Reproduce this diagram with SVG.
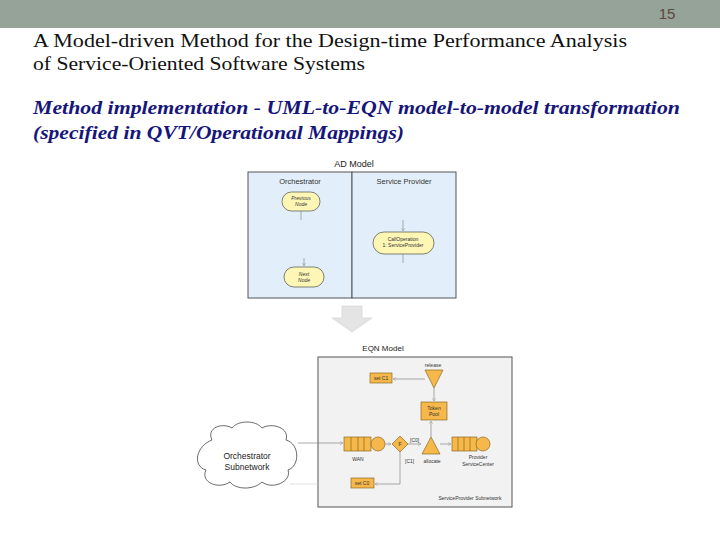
<svg xmlns="http://www.w3.org/2000/svg" width="720" height="540" viewBox="0 0 720 540">
<style>
.serif{font-family:"Liberation Serif","DejaVu Serif",serif}
.sans{font-family:"Liberation Sans",Arial,sans-serif}
.lane{fill:#e2effa;stroke:#555;stroke-width:1}
.adn{fill:#fdf6b5;stroke:#333;stroke-width:0.6}
.ln{stroke:#888;stroke-width:0.7;fill:none}
.or{fill:#f6b74b;stroke:#7a5a10;stroke-width:0.6}
.tiny{font-family:"Liberation Sans",Arial,sans-serif;font-size:5px;fill:#333}
</style>
<defs>
<marker id="ah" viewBox="0 0 6 6" refX="5" refY="3" markerWidth="5" markerHeight="5" orient="auto"><path d="M0,0 L5,3 L0,6" fill="none" stroke="#999" stroke-width="0.8"/></marker>
</defs>
<rect x="0" y="0" width="720" height="28" fill="#95a399"/>
<text class="sans" x="667" y="19" font-size="15" fill="#5a4a3a" text-anchor="middle">15</text>
<text class="serif" font-size="19" fill="#111"><tspan x="33" y="47" textLength="594" lengthAdjust="spacingAndGlyphs">A Model-driven Method for the Design-time Performance Analysis</tspan><tspan x="33" y="70" textLength="332" lengthAdjust="spacingAndGlyphs">of Service-Oriented Software Systems</tspan></text>
<text class="serif" font-size="19" font-weight="bold" font-style="italic" fill="#16167a"><tspan x="33" y="114" textLength="647" lengthAdjust="spacingAndGlyphs">Method implementation - UML-to-EQN model-to-model transformation</tspan><tspan x="33" y="139" textLength="371" lengthAdjust="spacingAndGlyphs">(specified in QVT/Operational Mappings)</tspan></text>

<g id="ad-model">
<text class="sans" x="354" y="167" font-size="9" text-anchor="middle" fill="#222">AD Model</text>
<rect class="lane" x="248" y="172" width="104" height="126"/>
<rect class="lane" x="352" y="172" width="104" height="126"/>
<text class="sans" x="300" y="184" font-size="7.5" text-anchor="middle" fill="#333">Orchestrator</text>
<text class="sans" x="404" y="184" font-size="7.5" text-anchor="middle" fill="#333">Service Provider</text>
</g>
<g id="previous-node"><rect class="adn" x="282" y="192" width="38" height="19" rx="9.5"/><text class="tiny" font-style="italic" text-anchor="middle"><tspan x="301" y="200">Previous</tspan><tspan x="301" y="206">Node</tspan></text></g>
<g id="next-node"><rect class="adn" x="284" y="267" width="40" height="20" rx="10"/><text class="tiny" font-style="italic" text-anchor="middle"><tspan x="304" y="276">Next</tspan><tspan x="304" y="282">Node</tspan></text></g>
<g id="call-operation"><rect class="adn" x="373" y="232" width="61" height="22" rx="11"/><text class="tiny" text-anchor="middle"><tspan x="403" y="241">CallOperation</tspan><tspan x="403" y="247">1: ServiceProvider</tspan></text></g>

<g id="transform-arrow"><path d="M342,306 H362 V318 H372 L352,332 L332,318 H342 Z" fill="#e4e4e4" stroke="#d0d0d0" stroke-width="0.6"/></g>

<g id="eqn-model">
<text class="sans" x="383" y="351" font-size="8" text-anchor="middle" fill="#222">EQN Model</text>
<rect x="318" y="357" width="194" height="150" fill="#f2f2f2" stroke="#555" stroke-width="1"/>
<text class="tiny" x="470" y="500" text-anchor="middle" font-size="4.5">ServiceProvider Subnetwork</text>
</g>
<g id="release"><text class="tiny" x="433" y="367" text-anchor="middle" font-size="4.5">release</text><path class="or" d="M425,370 H443 L434,388 Z"/></g>
<g id="set-c1"><rect class="or" x="370" y="373" width="22" height="10"/><text class="tiny" x="381" y="380" text-anchor="middle">set C1</text></g>
<g id="token-pool"><rect class="or" x="421" y="402" width="26" height="18"/><text class="tiny" text-anchor="middle"><tspan x="434" y="410">Token</tspan><tspan x="434" y="416">Pool</tspan></text></g>
<g id="wan"><rect class="or" x="344" y="437" width="27" height="14"/><path d="M351,437 V451 M358,437 V451 M364,437 V451" stroke="#7a5a10" stroke-width="0.6"/><circle class="or" cx="378" cy="444" r="7"/><text class="tiny" x="358" y="461" text-anchor="middle" font-size="4.5">WAN</text></g>
<g id="fork"><path class="or" d="M400,436 L408,444 L400,452 L392,444 Z"/><text class="tiny" x="400" y="446" text-anchor="middle" font-size="4.5">F</text></g>
<g id="allocate"><path class="or" d="M431,437 L440,454 H422 Z"/><text class="tiny" x="432" y="463" text-anchor="middle" font-size="4.5">allocate</text></g>
<g id="provider"><rect class="or" x="452" y="437" width="25" height="14"/><path d="M458,437 V451 M464,437 V451 M470,437 V451" stroke="#7a5a10" stroke-width="0.6"/><circle class="or" cx="483" cy="444" r="7"/><text class="tiny" text-anchor="middle" font-size="4.5"><tspan x="478" y="459">Provider</tspan><tspan x="478" y="466">ServiceCenter</tspan></text></g>
<g id="set-c0"><rect class="or" x="351" y="478" width="23" height="10"/><text class="tiny" x="362" y="485" text-anchor="middle">set C0</text></g>
<g id="cloud"><path d="M212,440 C206,428 222,422 232,428 C238,420 256,420 262,428 C272,422 290,428 286,440 C300,444 300,466 288,470 C292,482 272,490 262,482 C254,490 236,490 230,482 C218,490 200,482 206,470 C192,466 196,446 212,440 Z" fill="#fff" stroke="#444" stroke-width="0.8"/><text class="sans" font-size="8.5" text-anchor="middle" fill="#222"><tspan x="247" y="459">Orchestrator</tspan><tspan x="247" y="470">Subnetwork</tspan></text></g>

<g id="connectors">
<path class="ln" d="M301,211 V220"/>
<path class="ln" d="M304,258 V266" marker-end="url(#ah)"/>
<path class="ln" d="M403,220 V231" marker-end="url(#ah)"/>
<path class="ln" d="M403,254 V263"/>
<path class="ln" d="M298,443 H343" marker-end="url(#ah)"/>
<path class="ln" d="M385,444 H391" marker-end="url(#ah)"/>
<path class="ln" d="M408,444 H421" marker-end="url(#ah)"/>
<path class="ln" d="M440,444 H451" marker-end="url(#ah)"/>
<path class="ln" d="M431,437 V421" marker-end="url(#ah)"/>
<path class="ln" d="M434,388 V401" marker-end="url(#ah)"/>
<path class="ln" d="M400,452 V484 H375" marker-end="url(#ah)"/>
<path class="ln" d="M425,379 H393" marker-end="url(#ah)"/>
<path stroke="#ccc" stroke-width="0.6" fill="none" d="M290,484 H318"/>
<text class="tiny" x="410" y="442" font-size="4.5">[C0]</text>
<text class="tiny" x="405" y="463" font-size="4.5">[C1]</text>
</g>
</svg>
